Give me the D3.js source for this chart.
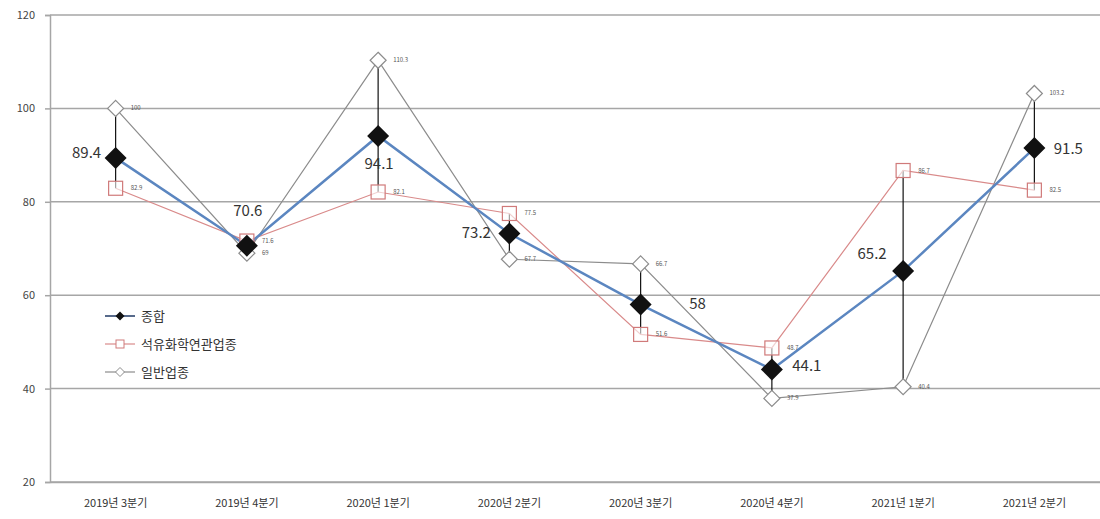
<!DOCTYPE html>
<html>
<head>
<meta charset="utf-8">
<script src="https://cdn.jsdelivr.net/npm/d3@7"></script>
<style>
  body { margin: 0; background: #fff; }
  text { font-family: "Noto Sans CJK KR", "Noto Sans", sans-serif; }
</style>
</head>
<body>
<div id="chart-area"></div>
<script>
// data
const categories = ['2019년 3분기', '2019년 4분기', '2020년 1분기', '2020년 2분기',
  '2020년 3분기', '2020년 4분기', '2021년 1분기', '2021년 2분기'];
const totalValues = [89.4, 70.6, 94.1, 73.2, 58, 44.1, 65.2, 91.5];
const petroValues = [82.9, 71.6, 82.1, 77.5, 51.6, 48.7, 86.7, 82.5];
const generalValues = [100, 69, 110.3, 67.7, 66.7, 37.9, 40.4, 103.2];
const yTicks = [20, 40, 60, 80, 100, 120];
const seriesNames = ['종합', '석유화학연관업종', '일반업종'];

const width = 1100, height = 519;
const margin = { top: 15, right: 0, bottom: 37, left: 50 };

const svg = d3.select('#chart-area').append('svg')
  .attr('width', width)
  .attr('height', height);

const x = d3.scaleBand()
  .domain(categories)
  .range([margin.left, width - margin.right]);
const y = d3.scaleLinear()
  .domain([20, 120])
  .range([height - margin.bottom, margin.top]);
const cx = (d, i) => x(categories[i]) + x.bandwidth() / 2;

// gridlines
svg.append('g')
  .selectAll('line')
  .data(yTicks)
  .enter()
  .append('line')
  .attr('x1', margin.left)
  .attr('x2', width)
  .attr('y1', d => y(d))
  .attr('y2', d => y(d))
  .attr('stroke', '#a6a6a6')
  .attr('stroke-width', 1.5);

// y axis
const yAxis = svg.append('g')
  .attr('transform', `translate(${margin.left},0)`)
  .call(d3.axisLeft(y).tickValues(yTicks).tickSize(5).tickPadding(10));
yAxis.select('.domain').attr('stroke', '#a6a6a6').attr('stroke-width', 1.5);
yAxis.selectAll('.tick line').attr('stroke', '#a6a6a6').attr('stroke-width', 1.5);
yAxis.selectAll('text').attr('font-size', 11).attr('fill', '#444');

// x axis
const xAxis = svg.append('g')
  .attr('transform', `translate(0,${y(20)})`)
  .call(d3.axisBottom(x).tickSize(0).tickPadding(17));
xAxis.select('.domain').attr('stroke', '#a6a6a6').attr('stroke-width', 1.5);
xAxis.selectAll('text').attr('font-size', 11).attr('fill', '#333');

// high-low lines
const hiLo = categories.map((c, i) => {
  const vals = [totalValues[i], petroValues[i], generalValues[i]];
  return [d3.min(vals), d3.max(vals)];
});
svg.append('g')
  .selectAll('line')
  .data(hiLo)
  .enter()
  .append('line')
  .attr('x1', cx)
  .attr('x2', cx)
  .attr('y1', d => y(d[0]))
  .attr('y2', d => y(d[1]))
  .attr('stroke', '#111')
  .attr('stroke-width', 1.2);

const line = d3.line().x(cx).y(d => y(d));

// general series
svg.append('path')
  .datum(generalValues)
  .attr('d', line)
  .attr('fill', 'none')
  .attr('stroke', '#8c8c8c')
  .attr('stroke-width', 1.2);
// petro series
svg.append('path')
  .datum(petroValues)
  .attr('d', line)
  .attr('fill', 'none')
  .attr('stroke', '#d98a8a')
  .attr('stroke-width', 1.2);
// total series
svg.append('path')
  .datum(totalValues)
  .attr('d', line)
  .attr('fill', 'none')
  .attr('stroke', '#5b86c0')
  .attr('stroke-width', 2.5);

// markers
const diamond = r => `M0,${-r}L${r},0L0,${r}L${-r},0Z`;
svg.append('g')
  .selectAll('path')
  .data(generalValues)
  .enter()
  .append('path')
  .attr('transform', (d, i) => `translate(${cx(d, i)},${y(d)})`)
  .attr('d', diamond(8))
  .attr('fill', '#fff')
  .attr('stroke', '#8c8c8c')
  .attr('stroke-width', 1.2);
svg.append('g')
  .selectAll('rect')
  .data(petroValues)
  .enter()
  .append('rect')
  .attr('x', (d, i) => cx(d, i) - 7)
  .attr('y', d => y(d) - 7)
  .attr('width', 14)
  .attr('height', 14)
  .attr('fill', '#fff')
  .attr('fill-opacity', 0.6)
  .attr('stroke', '#d07a7a')
  .attr('stroke-width', 1.2);
svg.append('g')
  .selectAll('path')
  .data(totalValues)
  .enter()
  .append('path')
  .attr('transform', (d, i) => `translate(${cx(d, i)},${y(d)})`)
  .attr('d', diamond(11))
  .attr('fill', '#111');

// small labels
const smallLabel = vals => svg.append('g')
  .selectAll('text')
  .data(vals)
  .enter()
  .append('text')
  .attr('x', (d, i) => cx(d, i) + 15)
  .attr('y', d => y(d) + 2)
  .attr('font-size', 6)
  .attr('fill', '#555')
  .text(d => d);
smallLabel(generalValues);
smallLabel(petroValues);

// total labels, offsets per point
const labelOffsets = [[-29, 4], [1, -26], [1, 37], [-33, 8], [57, 8], [35, 6], [-31, -8], [34, 10]];
svg.append('g')
  .selectAll('text')
  .data(totalValues)
  .enter()
  .append('text')
  .attr('x', (d, i) => cx(d, i) + labelOffsets[i][0])
  .attr('y', (d, i) => y(d) + labelOffsets[i][1] - 4)
  .attr('text-anchor', 'middle')
  .attr('font-size', 15)
  .attr('fill', '#333')
  .text(d => d);

// legend
const legend = svg.append('g').attr('transform', 'translate(105,316)');
const legendRow = (i) => legend.append('g').attr('transform', `translate(0,${i * 28})`);
const l0 = legendRow(0);
l0.append('line').attr('x1', 0).attr('x2', 30).attr('stroke', '#1f3864').attr('stroke-width', 1.5);
l0.append('path').attr('transform', 'translate(15,0)').attr('d', diamond(4.5)).attr('fill', '#111');
const l1 = legendRow(1);
l1.append('line').attr('x1', 0).attr('x2', 30).attr('stroke', '#d98a8a').attr('stroke-width', 1.2);
l1.append('rect').attr('x', 11).attr('y', -4).attr('width', 8).attr('height', 8)
  .attr('fill', '#fff').attr('stroke', '#d07a7a');
const l2 = legendRow(2);
l2.append('line').attr('x1', 0).attr('x2', 30).attr('stroke', '#8c8c8c').attr('stroke-width', 1.2);
l2.append('path').attr('transform', 'translate(15,0)').attr('d', diamond(4.5))
  .attr('fill', '#fff').attr('stroke', '#8c8c8c');
legend.selectAll('g').append('text')
  .data(seriesNames)
  .attr('x', 36)
  .attr('y', 5)
  .attr('font-size', 13)
  .attr('fill', '#333')
  .text(d => d);
</script>
</body>
</html>
